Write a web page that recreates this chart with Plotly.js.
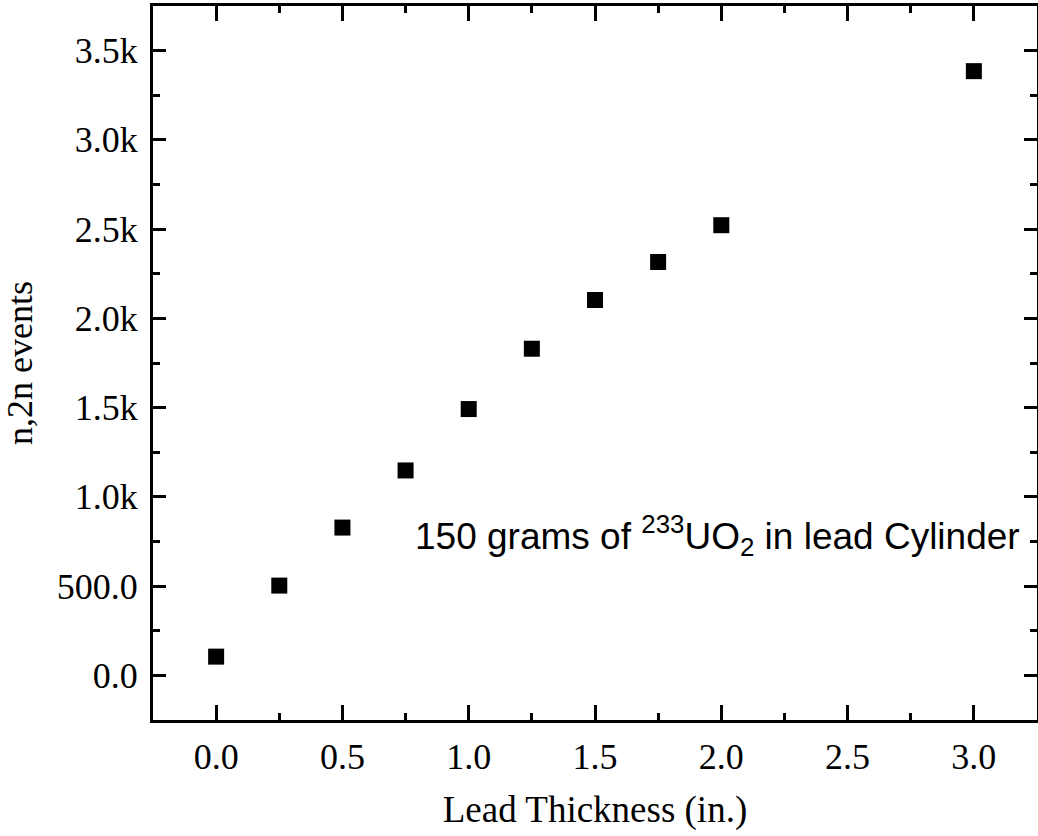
<!DOCTYPE html>
<html>
<head>
<meta charset="utf-8">
<script src="https://cdn.plot.ly/plotly-3.0.1.min.js"></script>
<style>html,body{margin:0;padding:0;background:#fff;}</style>
</head>
<body>
<div id="chart" style="width:1038px;height:836px;"></div>
<script>
const leadThickness = [0.0, 0.25, 0.5, 0.75, 1.0, 1.25, 1.5, 1.75, 2.0, 3.0];
const n2nEvents = [105, 503, 828, 1148, 1492, 1830, 2103, 2316, 2522, 3385];
const yTickVals = [0, 500, 1000, 1500, 2000, 2500, 3000, 3500];
const yTickText = ["0.0", "500.0", "1.0k", "1.5k", "2.0k", "2.5k", "3.0k", "3.5k"];
const xTickVals = [0, 0.5, 1.0, 1.5, 2.0, 2.5, 3.0];
const xTickText = ["0.0", "0.5", "1.0", "1.5", "2.0", "2.5", "3.0"];

const serif = "Liberation Serif, Times New Roman, serif";

const trace = {
  x: leadThickness,
  y: n2nEvents,
  mode: "markers",
  type: "scatter",
  marker: {symbol: "square", size: 16, color: "#000"},
  showlegend: false
};

const layout = {
  width: 1038, height: 836,
  margin: {l: 153, r: 1, t: 6, b: 116},
  paper_bgcolor: "#fff", plot_bgcolor: "#fff",
  font: {family: serif, color: "#000"},
  xaxis: {
    range: [-0.25, 3.25],
    tickvals: xTickVals, ticktext: xTickText,
    showgrid: false, zeroline: false,
    showline: true, linewidth: 3, linecolor: "#000", mirror: "allticks",
    ticks: "inside", ticklen: 15, tickwidth: 3, tickcolor: "#000",
    ticklabelstandoff: 3,
    tickfont: {family: serif, size: 36, color: "#000"},
    minor: {dtick: 0.25, tick0: 0, ticks: "inside", ticklen: 7, tickwidth: 3, tickcolor: "#000", showgrid: false},
    title: {text: "Lead Thickness (in.)", font: {family: serif, size: 37, color: "#000"}, standoff: 20}
  },
  yaxis: {
    range: [-250, 3750],
    tickvals: yTickVals, ticktext: yTickText,
    showgrid: false, zeroline: false,
    showline: true, linewidth: 3, linecolor: "#000", mirror: "allticks",
    ticks: "inside", ticklen: 13, tickwidth: 3, tickcolor: "#000",
    ticklabelstandoff: 5,
    tickfont: {family: serif, size: 36, color: "#000"},
    minor: {dtick: 250, tick0: 0, ticks: "inside", ticklen: 7, tickwidth: 3, tickcolor: "#000", showgrid: false},
    title: {text: "n,2n events", font: {family: serif, size: 36, color: "#000"}, standoff: 15}
  },
  annotations: [{
    x: 3.19, y: 782, xref: "x", yref: "y",
    xanchor: "right", yanchor: "middle",
    text: "150 grams of <sup>233</sup>UO<sub>2</sub> in lead Cylinder",
    showarrow: false,
    font: {family: "Liberation Sans, Arial, sans-serif", size: 37, color: "#000"}
  }]
};

Plotly.newPlot("chart", [trace], layout, {displayModeBar: false, staticPlot: true});
</script>
</body>
</html>
